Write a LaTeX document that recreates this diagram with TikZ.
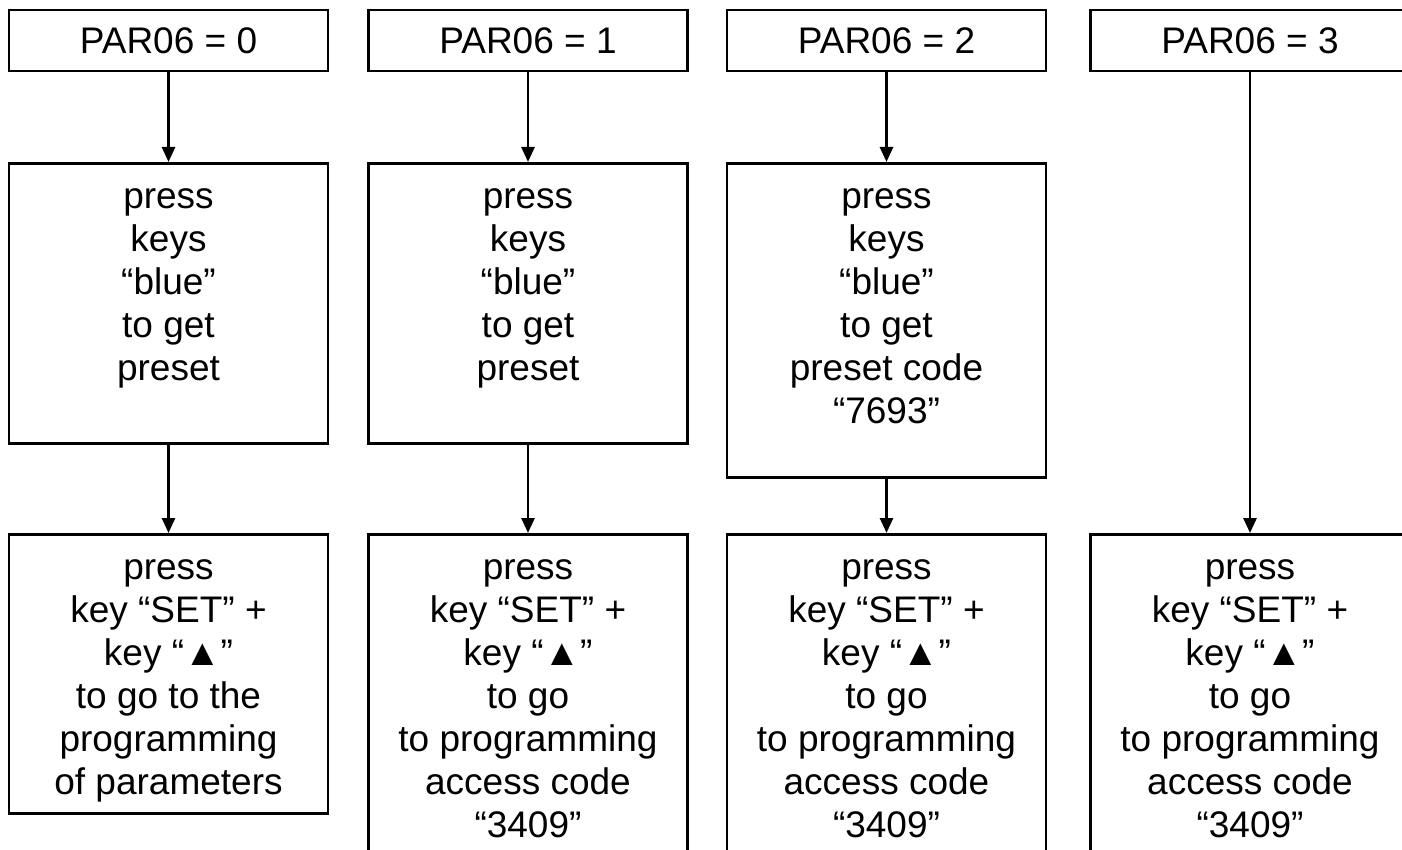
\documentclass[tikz,border=0pt]{standalone}
\usepackage{fontspec}
\setmainfont{Liberation Sans}
\usetikzlibrary{positioning,arrows.meta}
\tikzset{
  box/.style={rectangle, draw=black, line width=2.7pt, inner sep=0pt, minimum width=319pt},
  connect/.style={-{Triangle[length=15pt,width=13pt]}, line width=2.7pt}
}
% text block with fixed height, lines hung from the top
\newcommand{\boxtext}[2]{\parbox[c][#1][t]{319pt}{\centering\rule{0pt}{45.5pt}#2}}

\begin{document}
\begin{tikzpicture}[x=1pt,y=-1pt,font=\fontsize{37}{43}\selectfont]
  \useasboundingbox (0,0) rectangle (1402,850);
  \clip (0,0) rectangle (1402,850);

  % Top row: the four values of PAR06
  \foreach \i/\x in {0/168.5,1/528,2/886.5,3/1250} {
    \node[box,minimum height=61pt] (par_\i) at (\x,40.5) {\raisebox{-2.5pt}{PAR06 = \i}};
  }

  % Middle row: get the preset
  \node[box,anchor=north] (get_0) at (168.5,162) {\boxtext{280pt}{press\\keys\\“blue”\\to get\\preset}};
  \node[box,anchor=north] (get_1) at (528,162) {\boxtext{280pt}{press\\keys\\“blue”\\to get\\preset}};
  \node[box,anchor=north] (get_2) at (886.5,162) {\boxtext{314pt}{press\\keys\\“blue”\\to get\\preset code\\“7693”}};

  % Bottom row: go to programming
  \node[box,anchor=north] (go_0) at (168.5,533) {\boxtext{279pt}{press\\key “SET” +\\key “▲”\\to go to the\\programming\\of parameters}};
  \foreach \i/\x in {1/528,2/886.5,3/1250} {
    \node[box,anchor=north] (go_\i) at (\x,533) {\boxtext{340pt}{press\\key “SET” +\\key “▲”\\to go\\to programming\\access code\\“3409”}};
  }

  \foreach \i in {0,1,2} {
    \path (par_\i) edge [connect] (get_\i);
    \path (get_\i) edge [connect] (go_\i);
  }
  \path (par_3) edge [connect] (go_3);
\end{tikzpicture}
\end{document}
